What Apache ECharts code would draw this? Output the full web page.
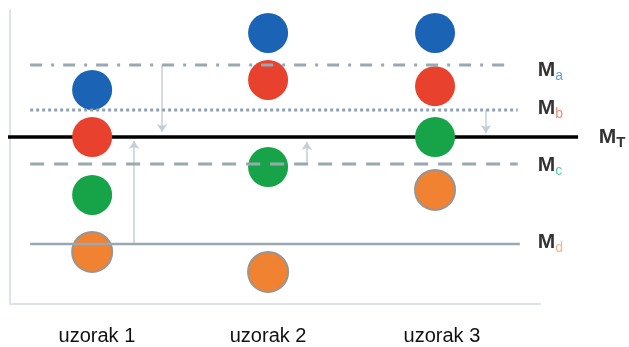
<!DOCTYPE html>
<html>
<head>
<meta charset="utf-8">
<script src="https://cdn.jsdelivr.net/npm/echarts@6/dist/echarts.min.js"></script>
<style>html,body{margin:0;padding:0;background:#fff}#c{width:629px;height:347px}</style>
</head>
<body>
<div id="c"></div>
<script>
// categories (sample names) and their label positions on the x scale
var categories = ['uzorak 1', 'uzorak 2', 'uzorak 3'];
var categoryLabelX = [16.4, 48.7, 81.5];
// x position of each sample's points
var sampleX = [15.5, 48.7, 80.2];
// series values per sample
var blueValues = [72.8, 92.2, 92.2];
var redValues = [56.8, 76.2, 74.1];
var greenValues = [37.1, 46.6, 56.8];
var orangeValues = [17.7, 10.9, 38.8];
// reference levels
var levelNames = ['a', 'b', 'T', 'c', 'd'];
var levelValues = [81.3, 66.0, 56.8, 47.6, 20.4];
var levelStartX = [3.8, 3.8, -0.4, 3.8, 3.8];
var levelEndX = [94.3, 95.8, 107.2, 95.8, 96.2];
var levelLabelX = [99.6, 99.6, 111.1, 99.6, 99.6];
var levelLabelY = [79.6, 66.5, 56.6, 47.3, 21.1];
// arrows: x, from, to
var arrowX = [28.7, 23.4, 56.0, 89.8];
var arrowFrom = [81.3, 20.4, 47.6, 66.0];
var arrowTo = [58.5, 55.4, 55.1, 58.2];

var chart = echarts.init(document.getElementById('c'));
var font = '"Liberation Sans", Arial, sans-serif';

function pts(vals) { return vals.map(function (v, i) { return [sampleX[i], v]; }); }

var levelStyles = [
  { color: '#9aa8b2', width: 3, type: [12, 9, 3, 9] },
  { color: '#8ea2b4', width: 3, type: [3, 3] },
  { color: '#000000', width: 3.5, type: 'solid' },
  { color: '#9aa8b2', width: 3, type: [14, 10] },
  { color: '#9aa8b2', width: 2.5, type: 'solid' }
];
var subColors = { a: '#3a8fd8', b: '#f06a50', T: '#000000', c: '#2cc08a', d: '#f5a070' };

var series = [];
levelValues.forEach(function (v, i) {
  series.push({
    type: 'line', silent: true, clip: false, showSymbol: false,
    z: levelNames[i] === 'T' ? 2 : 4,
    lineStyle: levelStyles[i],
    data: [[levelStartX[i], v], [levelEndX[i], v]]
  });
});
series.push({
  type: 'scatter', silent: true, symbolSize: 0, z: 5, clip: false,
  data: levelLabelY.map(function (v, i) { return { value: [levelLabelX[i], v], name: levelNames[i] }; }),
  label: {
    show: true, position: 'right', distance: 0,
    formatter: function (p) { return '{m|M}{' + p.name + '|' + p.name + '}'; },
    rich: (function () {
      var r = { m: { fontFamily: font, fontSize: 21, fontWeight: 'bold', color: '#000', lineHeight: 22 } };
      Object.keys(subColors).forEach(function (k) {
        r[k] = { fontFamily: font, fontSize: k === 'T' ? 15 : 14, fontWeight: k === 'T' ? 'bold' : 'normal', color: subColors[k], verticalAlign: 'bottom', lineHeight: 22, padding: [0, 0, -2, 0] };
      });
      return r;
    })()
  }
});
series.push({
  type: 'lines', coordinateSystem: 'cartesian2d', silent: true, z: 3,
  symbol: ['none', 'arrow'], symbolSize: 8,
  lineStyle: { color: '#c5ced6', width: 1.5, opacity: 1 },
  data: arrowX.map(function (x, i) { return { coords: [[x, arrowFrom[i]], [x, arrowTo[i]]] }; })
});
var dotColors = ['#1b63b5', '#e8412e', '#17a448', '#f08232'];
[blueValues, redValues, greenValues, orangeValues].forEach(function (vals, i) {
  series.push({
    type: 'scatter', silent: true, symbolSize: 40, z: 3,
    itemStyle: { color: dotColors[i], opacity: 1, borderColor: i === 3 ? '#9a9590' : dotColors[i], borderWidth: i === 3 ? 2 : 0 },
    data: pts(vals)
  });
});

chart.setOption({
  animation: false,
  grid: [
    { left: 10, right: 0, top: 10, bottom: 43 },
    { left: 10, right: 89, top: 10, bottom: 43 }
  ],
  xAxis: [{
    type: 'value', min: 0, max: 116.8, gridIndex: 0,
    splitLine: { show: false },
    axisLine: { show: false },
    axisTick: { show: false },
    axisLabel: {
      customValues: categoryLabelX,
      margin: 22,
      fontFamily: font, fontSize: 20, color: '#111',
      formatter: function (v) {
        var i = categoryLabelX.indexOf(v);
        return i >= 0 ? categories[i] : '';
      }
    }
  }, {
    type: 'value', min: 0, max: 100, gridIndex: 1,
    splitLine: { show: false },
    axisLine: { show: true, lineStyle: { color: '#dde3e8', width: 2 } },
    axisTick: { show: false },
    axisLabel: { show: false }
  }],
  yAxis: [{
    type: 'value', min: 0, max: 100, gridIndex: 0,
    splitLine: { show: false },
    axisLine: { show: false },
    axisTick: { show: false },
    axisLabel: { show: false }
  }, {
    type: 'value', min: 0, max: 100, gridIndex: 1,
    splitLine: { show: false },
    axisLine: { show: true, lineStyle: { color: '#dde3e8', width: 2 } },
    axisTick: { show: false },
    axisLabel: { show: false }
  }],
  series: series
});
</script>
</body>
</html>
